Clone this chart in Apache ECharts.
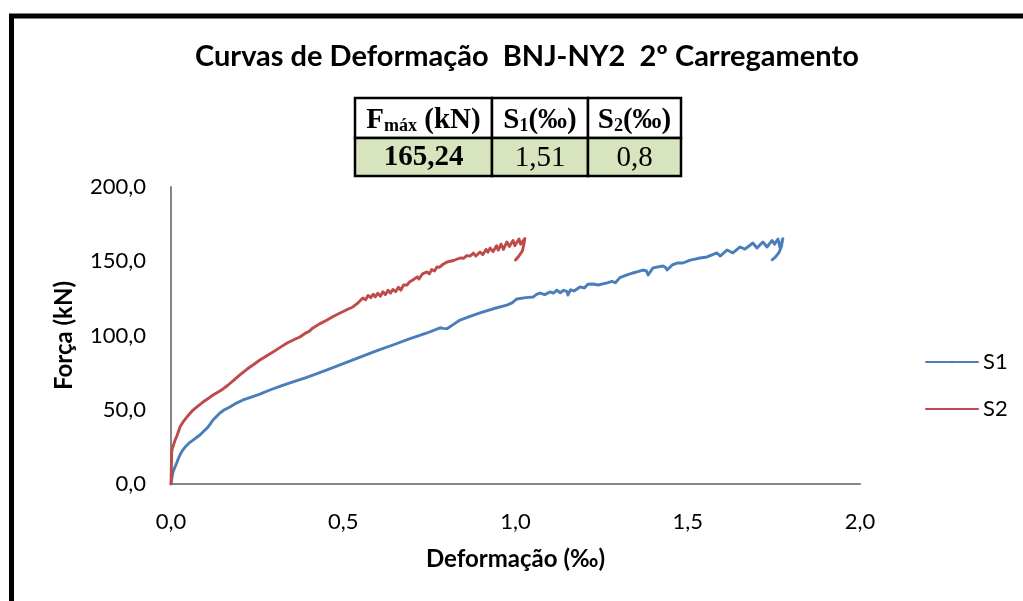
<!DOCTYPE html>
<html>
<head>
<meta charset="utf-8">
<title>Curvas de Deformação BNJ-NY2</title>
<script src="https://cdn.jsdelivr.net/npm/echarts@6/dist/echarts.min.js"></script>
<style>
  html, body { margin: 0; padding: 0; background: #ffffff; }
  #chart { width: 1023px; height: 601px; }
</style>
</head>
<body>
<div id="chart"></div>
<script>
// Strain (‰) vs. load (kN) readings for the two gauges, second loading cycle
const s1Data = [
  [0,0],[0.002,3],[0.004,6],[0.006,8],[0.009,10],[0.012,11],[0.017,14.5],[0.022,17.5],[0.026,19.5],
  [0.033,22.5],[0.041,24.9],[0.052,27.5],[0.064,29.6],[0.075,31.5],[0.084,33],[0.095,35.5],[0.105,37.7],
  [0.114,40.5],[0.122,43.1],[0.132,45.5],[0.142,47.8],[0.155,50],[0.171,51.9],[0.19,54.5],[0.209,56.6],
  [0.233,58.5],[0.258,60.5],[0.287,63.3],[0.32,66],[0.354,68.7],[0.39,71.5],[0.42,74],[0.453,76.8],
  [0.5,81],[0.549,85.5],[0.6,90],[0.644,93.6],[0.69,97.5],[0.743,101.7],[0.781,105.2],[0.79,104.8],
  [0.801,104.6],[0.82,107.5],[0.839,110.4],[0.87,113],[0.897,115.2],[0.935,118],[0.975,120.5],[0.99,122],
  [1.004,124.6],[1.03,125.5],[1.051,125.9],[1.06,127.5],[1.065,126.5],[1.071,128.6],[1.085,127.5],
  [1.1,129.3],[1.11,128.5],[1.12,130.5],[1.13,128.8],[1.14,130.5],[1.15,129.5],[1.152,127.3],[1.16,130.8],
  [1.17,130],[1.187,132.7],[1.2,132],[1.21,134.5],[1.225,134.7],[1.24,134],[1.266,135.4],[1.28,136.5],
  [1.29,135.5],[1.303,139],[1.32,140.5],[1.341,142.1],[1.355,143],[1.37,144.1],[1.38,143.5],[1.385,140.7],
  [1.399,145.5],[1.428,146.8],[1.435,146],[1.44,144.1],[1.455,147.5],[1.469,148.8],[1.486,148.8],
  [1.507,150.8],[1.536,152.2],[1.556,152.9],[1.585,155.6],[1.594,153.5],[1.614,157.6],[1.631,155.6],
  [1.652,159.6],[1.666,158.2],[1.689,162.3],[1.701,158.9],[1.718,163],[1.73,159.6],[1.745,164],
  [1.752,161.5],[1.762,165],[1.768,159],[1.776,165.24],[1.772,160],[1.765,156],[1.755,153],[1.745,151]
];

const s2Data = [
  [0,0],[0.001,10],[0.002,21.8],[0.004,24],[0.006,25],[0.009,27.5],[0.012,29.6],[0.017,32.3],[0.022,35.5],
  [0.026,38.4],[0.035,41.8],[0.046,45.1],[0.055,47.5],[0.064,49.8],[0.078,52.5],[0.093,55.2],[0.108,57.6],
  [0.122,59.9],[0.137,62],[0.151,64],[0.165,66.5],[0.18,69.4],[0.2,73.5],[0.221,77.4],[0.24,80.5],
  [0.258,83.5],[0.277,86.2],[0.296,88.9],[0.317,92],[0.337,94.9],[0.355,97],[0.374,99],[0.392,101.8],
  [0.4,102.6],[0.405,102],[0.412,105.1],[0.433,108],[0.453,110.4],[0.472,113],[0.491,115.2],[0.51,117.3],
  [0.528,119.2],[0.543,122],[0.557,125.3],[0.565,124],[0.572,127],[0.58,125.5],[0.587,127.8],[0.593,126],
  [0.6,128.5],[0.608,126.5],[0.615,129.5],[0.622,127.5],[0.63,130.5],[0.637,128.5],[0.644,131],
  [0.652,129.5],[0.66,132.5],[0.667,130.5],[0.675,134],[0.685,134],[0.692,136],[0.702,137.4],
  [0.715,139.5],[0.72,138],[0.73,141.5],[0.743,142.8],[0.75,141.5],[0.757,144.5],[0.765,143.5],
  [0.772,146.1],[0.78,146],[0.79,148],[0.801,149.5],[0.82,150.5],[0.839,152.2],[0.85,152],[0.858,153.8],
  [0.868,153.5],[0.878,155.5],[0.885,153.5],[0.897,156.2],[0.905,154.5],[0.915,158],[0.92,156],
  [0.926,158.9],[0.935,156.5],[0.945,160.5],[0.95,157.5],[0.958,161.5],[0.965,158],[0.975,163],
  [0.982,160],[0.993,164],[0.998,160.5],[1.01,165],[1.015,161.5],[1.027,165.24],[1.024,161],
  [1.02,157],[1.01,153.5],[1.0,150.8]
];

const seriesNames = ['S1', 'S2'];
const xTicks = { min: 0, max: 2, step: 0.5 };
const yTicks = { min: 0, max: 200, step: 50 };

// Summary table shown under the title
const tableHeader = ['Fmáx (kN)', 'S1(‰)', 'S2(‰)'];
const tableValues = ['165,24', '1,51', '0,8'];

const chartTitle = 'Curvas de Deformação  BNJ-NY2  2º Carregamento';
const xAxisTitle = 'Deformação (‰)';
const yAxisTitle = 'Força (kN)';

const uiFont = 'Lato';
const serifFont = 'Liberation Serif';
const blue = '#4a7ebb';
const red = '#be4b48';
const axisGray = '#868686';

const comma = v => v.toFixed(1).replace('.', ',');

// Table geometry
const colX = [355, 492, 588, 681];
const rowY = [98, 138, 176];

function headerRich(label) {
  // "Fmáx (kN)" / "S1(‰)" / "S2(‰)" with subscripted part
  if (label.startsWith('Fmáx')) return '{big|F}{sub|máx}{big| (kN)}';
  return '{big|' + label[0] + '}{sub|' + label[1] + '}{big|' + label.slice(2) + '}';
}

const tableGraphics = [];
for (let c = 0; c < 3; c++) {
  const x0 = colX[c], x1 = colX[c + 1];
  tableGraphics.push({
    type: 'rect', shape: { x: x0, y: rowY[0], width: x1 - x0, height: rowY[1] - rowY[0] },
    style: { fill: '#ffffff', stroke: '#000000', lineWidth: 2.5 }, z: 10
  });
  tableGraphics.push({
    type: 'rect', shape: { x: x0, y: rowY[1], width: x1 - x0, height: rowY[2] - rowY[1] },
    style: { fill: '#d7e4bd', stroke: '#000000', lineWidth: 2.5 }, z: 10
  });
  tableGraphics.push({
    type: 'text', x: (x0 + x1) / 2, y: (rowY[0] + rowY[1]) / 2 + 1, z: 11,
    style: {
      text: headerRich(tableHeader[c]), align: 'center', verticalAlign: 'middle',
      rich: {
        big: { fontFamily: serifFont, fontWeight: 'bold', fontSize: 29, fill: '#000', verticalAlign: 'bottom', lineHeight: 32 },
        sub: { fontFamily: serifFont, fontWeight: 'bold', fontSize: 18, fill: '#000', verticalAlign: 'bottom', lineHeight: 28 }
      }
    }
  });
  tableGraphics.push({
    type: 'text', x: (x0 + x1) / 2, y: (rowY[1] + rowY[2]) / 2 + 1, z: 11,
    style: {
      text: tableValues[c], align: 'center', verticalAlign: 'middle',
      fontFamily: serifFont, fontWeight: c === 0 ? 'bold' : 'normal', fontSize: 29, fill: '#000'
    }
  });
}

const chart = echarts.init(document.getElementById('chart'), null, { renderer: 'canvas' });

chart.setOption({
  backgroundColor: '#ffffff',
  animation: false,
  title: {
    text: chartTitle,
    left: 190,
    top: 37,
    textStyle: { fontFamily: uiFont, fontWeight: 'bold', fontSize: 29, color: '#000' }
  },
  legend: {
    orient: 'vertical',
    left: 920,
    top: 346,
    itemWidth: 52,
    itemHeight: 3,
    itemGap: 25,
    textStyle: { fontFamily: uiFont, fontSize: 22, color: '#000', padding: [0, 0, 0, 0] },
    data: seriesNames
  },
  grid: { left: 171, right: 163, top: 187, bottom: 117, containLabel: false },
  xAxis: {
    type: 'value',
    min: xTicks.min, max: xTicks.max, interval: xTicks.step,
    name: xAxisTitle,
    nameLocation: 'middle',
    nameGap: 63,
    nameTextStyle: { fontFamily: uiFont, fontWeight: 'bold', fontSize: 24, color: '#000' },
    axisLine: { show: true, onZero: false, lineStyle: { color: axisGray, width: 2 } },
    axisTick: { show: false },
    splitLine: { show: false },
    axisLabel: { formatter: comma, fontFamily: uiFont, fontSize: 22, color: '#000', margin: 27 }
  },
  yAxis: {
    type: 'value',
    min: yTicks.min, max: yTicks.max, interval: yTicks.step,
    name: yAxisTitle,
    nameLocation: 'middle',
    nameRotate: 90,
    nameGap: 95,
    nameTextStyle: { fontFamily: uiFont, fontWeight: 'bold', fontSize: 24, color: '#000' },
    axisLine: { show: true, lineStyle: { color: axisGray, width: 2 } },
    axisTick: { show: false },
    splitLine: { show: false },
    axisLabel: { formatter: comma, fontFamily: uiFont, fontSize: 22, color: '#000', margin: 25 }
  },
  series: [
    {
      name: seriesNames[0], type: 'line', data: s1Data, symbol: 'none',
      lineStyle: { color: blue, width: 2.9, join: 'round', cap: 'round' },
      itemStyle: { color: blue }, z: 3
    },
    {
      name: seriesNames[1], type: 'line', data: s2Data, symbol: 'none',
      lineStyle: { color: red, width: 2.9, join: 'round', cap: 'round' },
      itemStyle: { color: red }, z: 4
    }
  ],
  graphic: [
    {
      type: 'polyline', z: 20,
      shape: { points: [[11.5, 601], [11.5, 16], [1023, 16]] },
      style: { stroke: '#000000', lineWidth: 5, fill: null }
    }
  ].concat(tableGraphics)
});
</script>
</body>
</html>
